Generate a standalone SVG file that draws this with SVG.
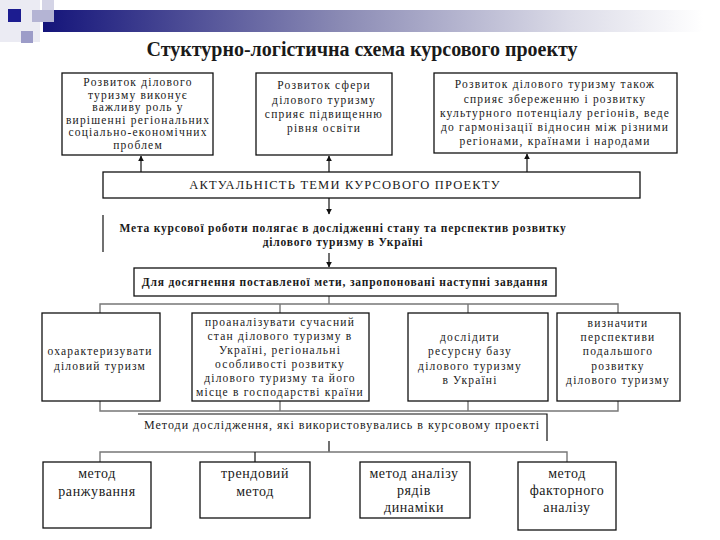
<svg xmlns="http://www.w3.org/2000/svg" width="720" height="540" viewBox="0 0 720 540">
<defs>
<linearGradient id="bar" x1="0" y1="0" x2="1" y2="0">
<stop offset="0" stop-color="#14147a"/>
<stop offset="0.45" stop-color="#8a8ab4"/>
<stop offset="0.8" stop-color="#dcdce8"/>
<stop offset="1" stop-color="#ffffff"/>
</linearGradient>
<marker id="ah" viewBox="0 0 10 10" refX="9" refY="5" markerWidth="6" markerHeight="6" orient="auto-start-reverse" markerUnits="userSpaceOnUse">
<path d="M0,0 L10,5 L0,10 z" fill="#111"/>
</marker>
<style>
.box{fill:#fff;stroke:#111;stroke-width:1.3}
.t{font-family:"Liberation Serif","Times New Roman",serif;fill:#1a1a1a;text-anchor:middle}
.s{font-size:11.5px;letter-spacing:1.2px}
.m{font-size:14px;letter-spacing:0.6px}
.b{font-weight:bold}
.ln{stroke:#111;stroke-width:1.2;fill:none}
.gl{stroke:#777;stroke-width:1.4;fill:none}
</style>
</defs>
<rect width="720" height="540" fill="#fff"/>
<g id="decor">
<rect x="0" y="0" width="40" height="42" fill="#ebebf3"/>
<rect x="43" y="10" width="660" height="22" fill="url(#bar)"/>
<rect x="42" y="0" width="12" height="10" fill="#d4d4e6"/>
<rect x="32" y="10" width="22" height="12" fill="#b4b4d4"/>
<rect x="8" y="9" width="13" height="13" fill="#1c1c90"/>
<rect x="21" y="31" width="12" height="12" fill="#9c9cc8"/>
</g>
<text id="title" class="t b" x="362" y="56" font-size="20">Стуктурно-логістична схема курсового проекту</text>

<g id="connectors">
<line class="ln" x1="141" y1="172" x2="141" y2="156" marker-end="url(#ah)"/>
<line class="ln" x1="329" y1="172" x2="329" y2="156" marker-end="url(#ah)"/>
<line class="ln" x1="527" y1="172" x2="527" y2="154" marker-end="url(#ah)"/>
<line class="ln" x1="329" y1="198" x2="329" y2="214" marker-end="url(#ah)"/>
<line class="ln" x1="329" y1="253" x2="329" y2="267" marker-end="url(#ah)"/>
<line class="ln" x1="103" y1="215" x2="103" y2="252"/>
<line class="gl" x1="329" y1="296" x2="329" y2="304"/>
<polyline class="gl" points="100,313 100,304 618,304 618,313"/>
<line class="gl" x1="280" y1="304" x2="280" y2="313"/>
<line class="gl" x1="468" y1="304" x2="468" y2="313"/>
<polyline class="gl" points="100,401 100,411 618,411 618,401"/>
<line class="gl" x1="280" y1="401" x2="280" y2="411"/>
<line class="gl" x1="468" y1="401" x2="468" y2="411"/>
<line class="ln" x1="329" y1="441" x2="329" y2="452"/>
<polyline class="gl" points="100,462 100,452 567,452 567,462"/>
<line class="ln" x1="255" y1="452" x2="255" y2="462"/>
</g>

<g id="top1">
<rect class="box" x="62" y="73" width="151" height="82"/>
<text class="t s" x="138" y="86" letter-spacing="1">Розвиток ділового</text>
<text class="t s" x="138" y="99" letter-spacing="1">туризму виконує</text>
<text class="t s" x="138" y="111" letter-spacing="1">важливу роль у</text>
<text class="t s" x="138" y="124" letter-spacing="1">вирішенні регіональних</text>
<text class="t s" x="138" y="136" letter-spacing="1">соціально-економічних</text>
<text class="t s" x="138" y="149" letter-spacing="1">проблем</text>
</g>
<g id="top2">
<rect class="box" x="256" y="73" width="136" height="82"/>
<text class="t s" x="324" y="89" font-size="12" letter-spacing="1.6">Розвиток сфери</text>
<text class="t s" x="324" y="104" font-size="12" letter-spacing="1.6">ділового туризму</text>
<text class="t s" x="324" y="118" font-size="12" letter-spacing="1.6">сприяє підвищенню</text>
<text class="t s" x="324" y="132" font-size="12" letter-spacing="1.6">рівня освіти</text>
</g>
<g id="top3">
<rect class="box" x="434" y="73" width="243" height="80"/>
<text class="t s" x="555" y="88" letter-spacing="1.5">Розвиток ділового туризму також</text>
<text class="t s" x="555" y="103" letter-spacing="1.5">сприяє збереженню і розвитку</text>
<text class="t s" x="555" y="117" letter-spacing="1.5">культурного потенціалу регіонів, веде</text>
<text class="t s" x="555" y="131" letter-spacing="1.5">до гармонізації відносин між різними</text>
<text class="t s" x="555" y="145" letter-spacing="1.5">регіонами, країнами і народами</text>
</g>
<g id="actual">
<rect class="box" x="103" y="172" width="537" height="26"/>
<text class="t" x="345" y="189" font-size="12.5" letter-spacing="1.2">АКТУАЛЬНІСТЬ ТЕМИ КУРСОВОГО ПРОЕКТУ</text>
</g>
<g id="meta">
<text class="t b" x="343" y="232" font-size="11.5" letter-spacing="0.8">Мета курсової роботи полягає в дослідженні стану та перспектив розвитку</text>
<text class="t b" x="343" y="246" font-size="11.5" letter-spacing="0.8">ділового туризму в Україні</text>
</g>
<g id="tasks">
<rect class="box" x="134" y="268" width="422" height="28"/>
<text class="t b" x="345" y="286" font-size="11.5" letter-spacing="0.8">Для досягнення поставленої мети, запропоновані наступні завдання</text>
</g>
<g id="taskA">
<rect class="box" x="42" y="313" width="118" height="88"/>
<text class="t s" x="100" y="355">охарактеризувати</text>
<text class="t s" x="100" y="370">діловий туризм</text>
</g>
<g id="taskB">
<rect class="box" x="192" y="313" width="177" height="88"/>
<text class="t s" x="280" y="326">проаналізувати сучасний</text>
<text class="t s" x="280" y="340">стан ділового туризму в</text>
<text class="t s" x="280" y="354">Україні, регіональні</text>
<text class="t s" x="280" y="368">особливості розвитку</text>
<text class="t s" x="280" y="382">ділового туризму та його</text>
<text class="t s" x="280" y="396">місце в господарстві країни</text>
</g>
<g id="taskC">
<rect class="box" x="408" y="313" width="140" height="88"/>
<text class="t s" x="470" y="341">дослідити</text>
<text class="t s" x="470" y="355">ресурсну базу</text>
<text class="t s" x="470" y="370">ділового туризму</text>
<text class="t s" x="470" y="384">в Україні</text>
</g>
<g id="taskD">
<rect class="box" x="557" y="313" width="123" height="88"/>
<text class="t s" x="618" y="327">визначити</text>
<text class="t s" x="618" y="341">перспективи</text>
<text class="t s" x="618" y="355">подальшого</text>
<text class="t s" x="618" y="370">розвитку</text>
<text class="t s" x="618" y="384">ділового туризму</text>
</g>
<g id="methods">
<polyline class="ln" points="138,414 547,414 547,441"/>
<text class="t" x="342" y="429" font-size="12" letter-spacing="1">Методи дослідження, які використовувались в курсовому проекті</text>
</g>
<g id="m1">
<rect class="box" x="43" y="462" width="108" height="66"/>
<text class="t m" x="97" y="478">метод</text>
<text class="t m" x="97" y="496">ранжування</text>
</g>
<g id="m2">
<rect class="box" x="200" y="462" width="110" height="56"/>
<text class="t m" x="255" y="478">трендовий</text>
<text class="t m" x="255" y="496">метод</text>
</g>
<g id="m3">
<rect class="box" x="360" y="462" width="110" height="56"/>
<text class="t m" x="414" y="478">метод аналізу</text>
<text class="t m" x="414" y="495">рядів</text>
<text class="t m" x="414" y="512">динаміки</text>
</g>
<g id="m4">
<rect class="box" x="518" y="462" width="98" height="68"/>
<text class="t m" x="567" y="478">метод</text>
<text class="t m" x="567" y="495">факторного</text>
<text class="t m" x="567" y="512">аналізу</text>
</g>
</svg>
